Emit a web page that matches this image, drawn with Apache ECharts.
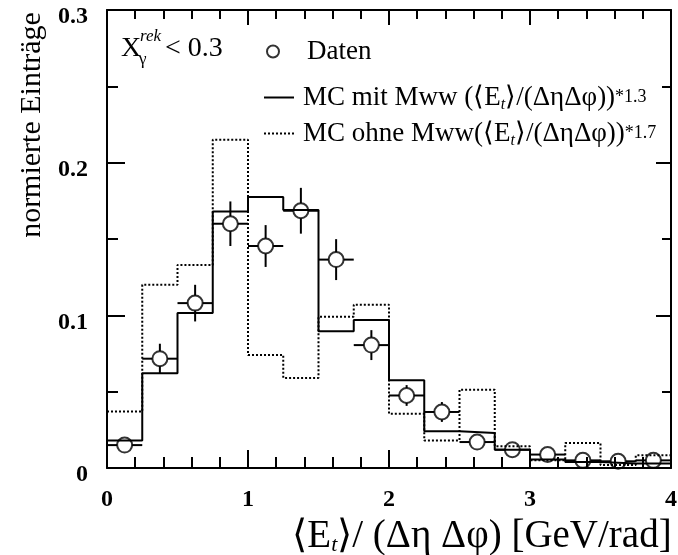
<!DOCTYPE html>
<html>
<head>
<meta charset="utf-8">
<script src="https://cdn.jsdelivr.net/npm/echarts@6/dist/echarts.min.js"></script>
<style>
  html, body { margin: 0; padding: 0; background: #fff; }
  #chart { width: 678px; height: 555px; }
</style>
</head>
<body>
<div id="chart"></div>
<script>
// bin edges in <Et>/(deta dphi) [GeV/rad]
const binEdges = [0, 0.25, 0.5, 0.75, 1, 1.25, 1.5, 1.75, 2, 2.25, 2.5, 2.75, 3, 3.25, 3.5, 3.75, 4]
// MC mit Mww, solid
const mcMit = [0.018, 0.062, 0.1015, 0.168, 0.1775, 0.169, 0.0895, 0.097, 0.0575, 0.024, 0.023, 0.012, 0.0055, 0.004, 0.003, 0.003]
// MC ohne Mww, dotted
const mcOhne = [0.037, 0.120, 0.133, 0.215, 0.074, 0.059, 0.099, 0.107, 0.0356, 0.018, 0.0513, 0.0142, 0.005, 0.0164, 0.002, 0.0083]
// Daten with stat. errors
const daten = [0.015, 0.0716, 0.108, 0.160, 0.1454, 0.1685, 0.1365, 0.0805, 0.0475, 0.0367, 0.017, 0.012, 0.0088, 0.005, 0.0044, 0.005]
const datenErr = [0.003, 0.0098, 0.012, 0.0146, 0.0137, 0.015, 0.0134, 0.0098, 0.0068, 0.0065, 0.004, 0.003, 0.003, 0.002, 0.002, 0.002]

const serif = '"Liberation Serif", "Times New Roman", serif'

const stepData = (vals) => {
  let pts = vals.map((v, i) => [binEdges[i], v])
  pts.push([binEdges[binEdges.length - 1], vals[vals.length - 1]])
  return pts
}
const pointData = daten.map((v, i) => {
  let lo = binEdges[i], hi = binEdges[i + 1]
  return [(lo + hi) / 2, v, datenErr[i], lo, hi]
})

const R = 7.5 // circle radius

const legendText = {
  'Daten': '{n|Daten}',
  'MC mit Mww': '{n|MC mit Mww (⟨E}{s|t}{n|⟩/(ΔηΔφ))}{k|*1.3}',
  'MC ohne Mww': '{n|MC ohne Mww(⟨E}{s|t}{n|⟩/(ΔηΔφ))}{k|*1.7}'
}
const legendRich = {
  n: { fontFamily: serif, fontSize: 27, color: '#000', lineHeight: 30 },
  s: { fontFamily: serif, fontSize: 16, fontStyle: 'italic', color: '#000', lineHeight: 20, verticalAlign: 'bottom' },
  k: { fontFamily: serif, fontSize: 18, color: '#000', lineHeight: 30, verticalAlign: 'middle' }
}
const makeLegend = (name, left, top, w, h, pad, hideSym) => {
  let lg = {
    data: [name],
    left: left,
    top: top,
    orient: 'vertical',
    itemWidth: w,
    itemHeight: h,
    selectedMode: false,
    padding: 0,
    formatter: (n) => legendText[n],
    textStyle: { padding: [0, 0, 0, pad], rich: legendRich }
  }
  if (hideSym) lg.itemStyle = { opacity: 0 }
  return lg
}

const tickAxis = (pos, showLabel, major, minor, isX) => ({
  type: 'value',
  position: pos,
  min: 0,
  max: isX ? 4 : 0.3,
  interval: isX ? 1 : 0.1,
  axisLine: { show: true, onZero: false, lineStyle: { color: '#000', width: 2 } },
  axisTick: { show: true, inside: true, length: major, lineStyle: { color: '#000', width: 2 } },
  minorTick: { show: true, splitNumber: isX ? 5 : 2, length: minor, lineStyle: { color: '#000', width: 2 } },
  splitLine: { show: false },
  minorSplitLine: { show: false },
  axisLabel: showLabel ? (isX ? {
    fontFamily: serif, fontWeight: 'bold', fontSize: 24, color: '#000', margin: 20
  } : {
    margin: 19,
    formatter: (v) => '{v|' + v + '}',
    rich: { v: { fontFamily: serif, fontWeight: 'bold', fontSize: 24, color: '#000', padding: [14, 0, 0, 0] } }
  }) : { show: false }
})

const chart = echarts.init(document.getElementById('chart'))

let xBottom = tickAxis('bottom', true, 18, 11, true)
xBottom.name = '{n|⟨E}{s|t}{n|⟩/ (Δη Δφ) [GeV/rad]}'
xBottom.nameLocation = 'middle'
xBottom.nameGap = 40
xBottom.nameTextStyle = {
  padding: [0, 0, 0, 186],
  rich: {
    n: { fontFamily: serif, fontSize: 39, color: '#000', lineHeight: 40 },
    s: { fontFamily: serif, fontSize: 22, fontStyle: 'italic', color: '#000', lineHeight: 28, verticalAlign: 'bottom' }
  }
}
let xTop = tickAxis('top', false, 15, 9, true)

let yLeft = tickAxis('left', true, 18, 11, false)
yLeft.name = 'normierte Einträge'
yLeft.nameLocation = 'middle'
yLeft.nameRotate = 90
yLeft.nameGap = 58
yLeft.nameTextStyle = { fontFamily: serif, fontSize: 30, color: '#000', padding: [0, 0, 0, 228] }
let yRight = tickAxis('right', false, 15, 9, false)

const option = {
  animation: false,
  backgroundColor: '#fff',
  grid: { left: 107, right: 7, top: 10, bottom: 87, containLabel: false, outerBoundsMode: 'none' },
  xAxis: [xBottom, xTop],
  yAxis: [yLeft, yRight],
  legend: [
    makeLegend('Daten', 266, 38, 12, 12, 23, false),
    makeLegend('MC mit Mww', 263, 84, 30, 14, 4, true),
    makeLegend('MC ohne Mww', 263, 120, 30, 14, 4, true)
  ],
  graphic: [
    { type: 'text', left: 121, top: 35, style: { text: 'X', font: '28px ' + serif, fill: '#000' } },
    { type: 'text', left: 139, top: 51, style: { text: 'γ', font: '17px ' + serif, fill: '#000' } },
    { type: 'text', left: 140, top: 28, style: { text: 'rek', font: 'italic 17px ' + serif, fill: '#000' } },
    { type: 'text', left: 165, top: 35, style: { text: '< 0.3', font: '28px ' + serif, fill: '#000' } }
  ],
  series: [
    {
      name: 'MC ohne Mww',
      type: 'line',
      step: 'end',
      symbol: 'none',
      lineStyle: { color: '#000', width: 2, type: [2, 2] },
      itemStyle: { color: '#000' },
      data: stepData(mcOhne),
      z: 2
    },
    {
      name: 'MC mit Mww',
      type: 'line',
      step: 'end',
      symbol: 'none',
      lineStyle: { color: '#000', width: 2 },
      itemStyle: { color: '#000' },
      data: stepData(mcMit),
      z: 3
    },
    {
      name: 'errors',
      type: 'custom',
      data: pointData,
      z: 4,
      renderItem: (params, api) => {
        let x = api.value(0), y = api.value(1), e = api.value(2)
        let c = api.coord([x, y])
        let top = api.coord([x, y + e])
        let bot = api.coord([x, y - e])
        let l = api.coord([api.value(3), y])
        let r = api.coord([api.value(4), y])
        let st = { stroke: '#000', lineWidth: 2 }
        let kids = []
        if (c[1] - top[1] > R) kids.push({ type: 'line', shape: { x1: c[0], y1: top[1], x2: c[0], y2: c[1] - R }, style: st })
        if (bot[1] - c[1] > R) kids.push({ type: 'line', shape: { x1: c[0], y1: c[1] + R, x2: c[0], y2: bot[1] }, style: st })
        kids.push({ type: 'line', shape: { x1: l[0], y1: c[1], x2: c[0] - R, y2: c[1] }, style: st })
        kids.push({ type: 'line', shape: { x1: c[0] + R, y1: c[1], x2: r[0], y2: c[1] }, style: st })
        return { type: 'group', children: kids }
      }
    },
    {
      name: 'Daten',
      type: 'scatter',
      symbol: 'circle',
      symbolSize: 2 * R,
      itemStyle: { color: 'rgba(255,255,255,0)', borderColor: '#000', borderWidth: 2 },
      data: pointData.map(p => [p[0], p[1]]),
      z: 5
    }
  ]
}
option && chart.setOption(option)
</script>
</body>
</html>
